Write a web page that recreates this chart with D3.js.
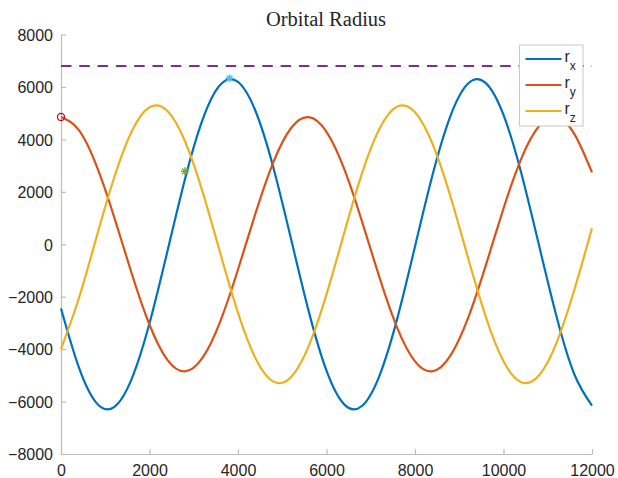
<!DOCTYPE html>
<html>
<head>
<meta charset="utf-8">
<script src="https://cdn.jsdelivr.net/npm/d3@7"></script>
<style>
    body { margin: 0; background: #fff; }
    svg { display: block; }
</style>
</head>
<body>
<svg id="chart" width="618" height="478"></svg>
<script>
// sample times (s)
const timeVals = [
    0, 400, 800, 1200, 1600, 2000, 2400, 2800, 3200, 3600, 4000,
    4400, 4800, 5200, 5600, 6000, 6400, 6800, 7200, 7600, 8000,
    8400, 8800, 9200, 9600, 10000, 10400, 10800, 11200, 11600, 12000,
];
// position components (km)
const rxVals = [
    -2450, -4681, -6051, -6210, -5126, -3015, -301, 2473, 4750, 6080, 6191,
    5063, 2921, 195, -2570, -4822, -6107, -6170, -4998, -2826, -87,
    2669, 4890, 6133, 6147, 4932, 2729, -21, -2766, -4957, -6156,
];
const ryVals = [
    4850, 4365, 3005, 1045, -1125, -3070, -4400, -4849, -4328, -2940, -964,
    1205, 3133, 4434, 4847, 4290, 2875, 884, -1284, -3196, -4466,
    -4844, -4251, -2809, -803, 1363, 3258, 4498, 4839, 4211, 2741,
];
const rzVals = [
    -3997, -2080, 253, 2537, 4312, 5224, 5091, 3938, 1998, -344, -2616,
    -4363, -5239, -5065, -3876, -1913, 433, 2694, 4414, 5252, 5038,
    3814, 1829, -524, -2771, -4464, -5263, -5009, -3751, -1745, 613,
];
const seriesNames = ["x", "y", "z"];
const seriesColours = ["#0072BD", "#D95319", "#EDB120"];

const limitRadius = 6800;
const startPoint = [0, 4855];
const midPoint = [2800, 2780];
const peakPoint = [3810, 6330];

const xTicks = [0, 2000, 4000, 6000, 8000, 10000, 12000];
const yTicks = [-8000, -6000, -4000, -2000, 0, 2000, 4000, 6000, 8000];

const svg = d3.select("#chart");

const x = d3.scaleLinear().domain([0, 12000]).range([61, 592]);
const y = d3.scaleLinear().domain([-8000, 8000]).range([454, 34.5]);

// axes (MATLAB style, box off, ticks inside)
const xAxis = svg
    .append("g")
    .attr("transform", `translate(0,${y(-8000)})`)
    .call(d3.axisBottom(x).tickValues(xTicks).tickSizeInner(-5).tickSizeOuter(0).tickPadding(10).tickFormat(d3.format("d")));

const yAxis = svg
    .append("g")
    .attr("transform", `translate(${x(0)},0)`)
    .call(d3.axisLeft(y).tickValues(yTicks).tickSizeInner(-5).tickSizeOuter(0).tickPadding(8).tickFormat(d3.format("d")));

[xAxis, yAxis].forEach((g) => {
    g.select(".domain").attr("stroke", "#bdbdbd").attr("stroke-width", 1.2);
    g.selectAll(".tick line").attr("stroke", "#bdbdbd").attr("stroke-width", 1.2);
    g.selectAll(".tick text")
        .attr("fill", "#262626")
        .style("font-family", "'Liberation Sans', Arial, sans-serif")
        .style("font-size", "16px");
});
yAxis.selectAll(".tick text").attr("dy", "0.36em");
xAxis.selectAll(".tick text").attr("dy", "0.72em");

// title
svg.append("text")
    .attr("x", 326)
    .attr("y", 26)
    .attr("text-anchor", "middle")
    .attr("fill", "#262626")
    .style("font-family", "'Liberation Serif', 'Times New Roman', serif")
    .style("font-size", "20.5px")
    .text("Orbital Radius");

// dashed limit line
svg.append("line")
    .attr("x1", x(0))
    .attr("x2", x(12000))
    .attr("y1", y(limitRadius))
    .attr("y2", y(limitRadius))
    .attr("stroke", "#7E2F8E")
    .attr("stroke-width", 2)
    .attr("stroke-dasharray", "10.5,7.8");

// curves
const seriesData = [rxVals, ryVals, rzVals];
const line = d3
    .line()
    .x((d) => x(d[0]))
    .y((d) => y(d[1]))
    .curve(d3.curveNatural);

svg.append("g")
    .selectAll("path")
    .data(seriesData)
    .join("path")
    .attr("d", (vals) => line(timeVals.map((t, i) => [t, vals[i]])))
    .attr("fill", "none")
    .attr("stroke", (d, i) => seriesColours[i])
    .attr("stroke-width", 2.2)
    .attr("stroke-linejoin", "round");

// markers
svg.append("circle")
    .attr("cx", x(startPoint[0]))
    .attr("cy", y(startPoint[1]))
    .attr("r", 3.5)
    .attr("fill", "none")
    .attr("stroke", "#A2142F")
    .attr("stroke-width", 1.3);

// '*' marker: plus + cross
const asterisk = (cx, cy, s) => {
    const d = s * 0.7071;
    return `M${cx - s},${cy}L${cx + s},${cy}M${cx},${cy - s}L${cx},${cy + s}` +
        `M${cx - d},${cy - d}L${cx + d},${cy + d}M${cx - d},${cy + d}L${cx + d},${cy - d}`;
};

svg.append("path")
    .attr("d", asterisk(x(midPoint[0]), y(midPoint[1]), 4))
    .attr("stroke", "#77AC30")
    .attr("stroke-width", 1.4)
    .attr("fill", "none");

svg.append("path")
    .attr("d", asterisk(x(peakPoint[0]), y(peakPoint[1]), 4))
    .attr("stroke", "#4DBEEE")
    .attr("stroke-width", 1.4)
    .attr("fill", "none");

// legend
const legend = svg.append("g").attr("transform", "translate(519.5,45)");

legend.append("rect")
    .attr("width", 63.5)
    .attr("height", 81)
    .attr("fill", "#fff")
    .attr("stroke", "#c8c8c8")
    .attr("stroke-width", 1);

const legendItems = legend
    .selectAll(".legend-item")
    .data(seriesNames)
    .join("g")
    .attr("class", "legend-item")
    .attr("transform", (d, i) => `translate(0,${14 + i * 26})`);

legendItems.append("line")
    .attr("x1", 6)
    .attr("x2", 42)
    .attr("stroke", (d, i) => seriesColours[i])
    .attr("stroke-width", 2.2);

const legendText = legendItems
    .append("text")
    .attr("x", 45)
    .attr("y", 3)
    .attr("fill", "#262626")
    .style("font-family", "'Liberation Sans', Arial, sans-serif")
    .style("font-size", "16px");

legendText.append("tspan").text("r");
legendText.append("tspan")
    .attr("dy", 7.5)
    .style("font-size", "12px")
    .text((d) => d);
</script>
</body>
</html>
